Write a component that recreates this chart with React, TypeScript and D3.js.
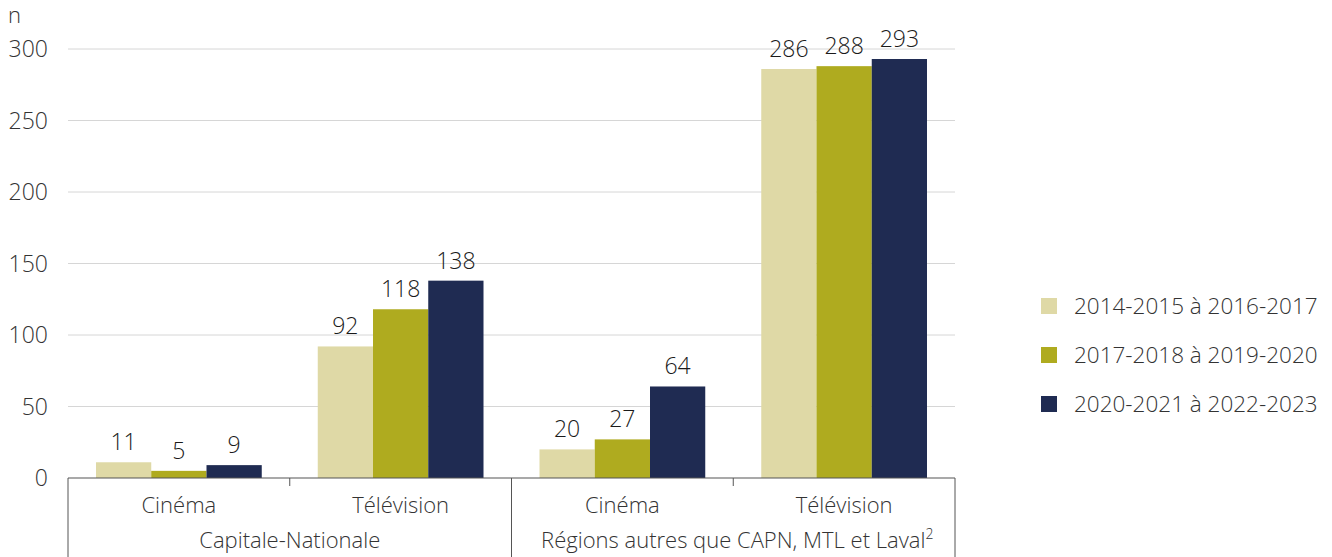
import React from "react";
import * as d3 from "d3";

const groups = ["Capitale-Nationale", "Régions autres que CAPN, MTL et Laval"];
const categories = ["Cinéma", "Télévision", "Cinéma", "Télévision"];
const categoryGroup = [0, 0, 1, 1];
const seriesNames = ["2014-2015 à 2016-2017", "2017-2018 à 2019-2020", "2020-2021 à 2022-2023"];
const series1 = [11, 92, 20, 286];
const series2 = [5, 118, 27, 288];
const series3 = [9, 138, 64, 293];
const yTicks = [0, 50, 100, 150, 200, 250, 300];
const colors = ["#DFD9A6", "#AFAB1F", "#1F2B52"];

const W = 1332;
const H = 557;
const left = 68;
const right = 955;
const top = 49;
const bottom = 478;
const font = "'Open Sans', sans-serif";

export default function App() {
  const values = [series1, series2, series3];
  const y = d3.scaleLinear().domain([0, 300]).range([bottom, top]);
  const x0 = d3.scaleBand<number>().domain(d3.range(categories.length)).range([left, right]).paddingInner(0).paddingOuter(0);
  const bw = x0.bandwidth();
  const pad = 28 / 221.75;
  const x1 = d3.scaleBand<number>().domain([0, 1, 2]).range([bw * pad, bw * (1 - pad)]).padding(0);

  return (
    <svg width={W} height={H} style={{ position: "absolute", left: 0, top: 0, fontFamily: font }}>
      <rect width={W} height={H} fill="#fff" />
      <text x={8} y={23} fontSize={22} fill="#333" fontWeight={300}>n</text>
      {yTicks.map((t) => (
        <g key={t}>
          {t > 0 && <line x1={left} x2={right} y1={y(t)} y2={y(t)} stroke="#d6d6d6" strokeWidth={1} />}
          <text x={48} y={y(t)} dy="0.35em" textAnchor="end" fontSize={23} fill="#333" fontWeight={300}>{t}</text>
        </g>
      ))}
      {values.map((vals, si) =>
        vals.map((v, ci) => (
          <g key={`${si}-${ci}`}>
            <rect x={x0(ci)! + x1(si)!} y={y(v)} width={x1.bandwidth()} height={bottom - y(v)} fill={colors[si]} />
            <text x={x0(ci)! + x1(si)! + x1.bandwidth() / 2} y={y(v) - 12} textAnchor="middle" fontSize={23} fill="#1a1a1a" fontWeight={300}>{v}</text>
          </g>
        ))
      )}
      <line x1={left} x2={right} y1={bottom} y2={bottom} stroke="#555" strokeWidth={1.2} />
      {categories.map((c, i) => (
        <g key={i}>
          <text x={x0(i)! + bw / 2} y={513} textAnchor="middle" fontSize={22} fill="#333" fontWeight={300}>{c}</text>
          {i % 2 === 1 && <line x1={x0(i)!} x2={x0(i)!} y1={bottom} y2={bottom + 8} stroke="#555" strokeWidth={1} />}
        </g>
      ))}
      {[left, x0(2)!, right].map((gx, i) => (
        <line key={i} x1={gx} x2={gx} y1={bottom} y2={H} stroke="#555" strokeWidth={1} />
      ))}
      {groups.map((g, gi) => {
        const idx = categoryGroup.map((cg, i) => (cg === gi ? i : -1)).filter((i) => i >= 0);
        const cx = (x0(idx[0])! + x0(idx[idx.length - 1])! + bw) / 2;
        return (
          <text key={g} x={cx + (gi === 1 ? 4 : 0)} y={548} textAnchor="middle" fontSize={22} fill="#333" fontWeight={300}>
            {g}
            {gi === 1 && <tspan fontSize={14} dy={-9}>2</tspan>}
          </text>
        );
      })}
      {seriesNames.map((s, i) => (
        <g key={s} transform={`translate(1041, ${306 + i * 49})`}>
          <rect x={0} y={-8} width={16} height={16} fill={colors[i]} />
          <text x={33} y={0} dy="0.35em" fontSize={22.5} fill="#333" fontWeight={300}>{s}</text>
        </g>
      ))}
    </svg>
  );
}
